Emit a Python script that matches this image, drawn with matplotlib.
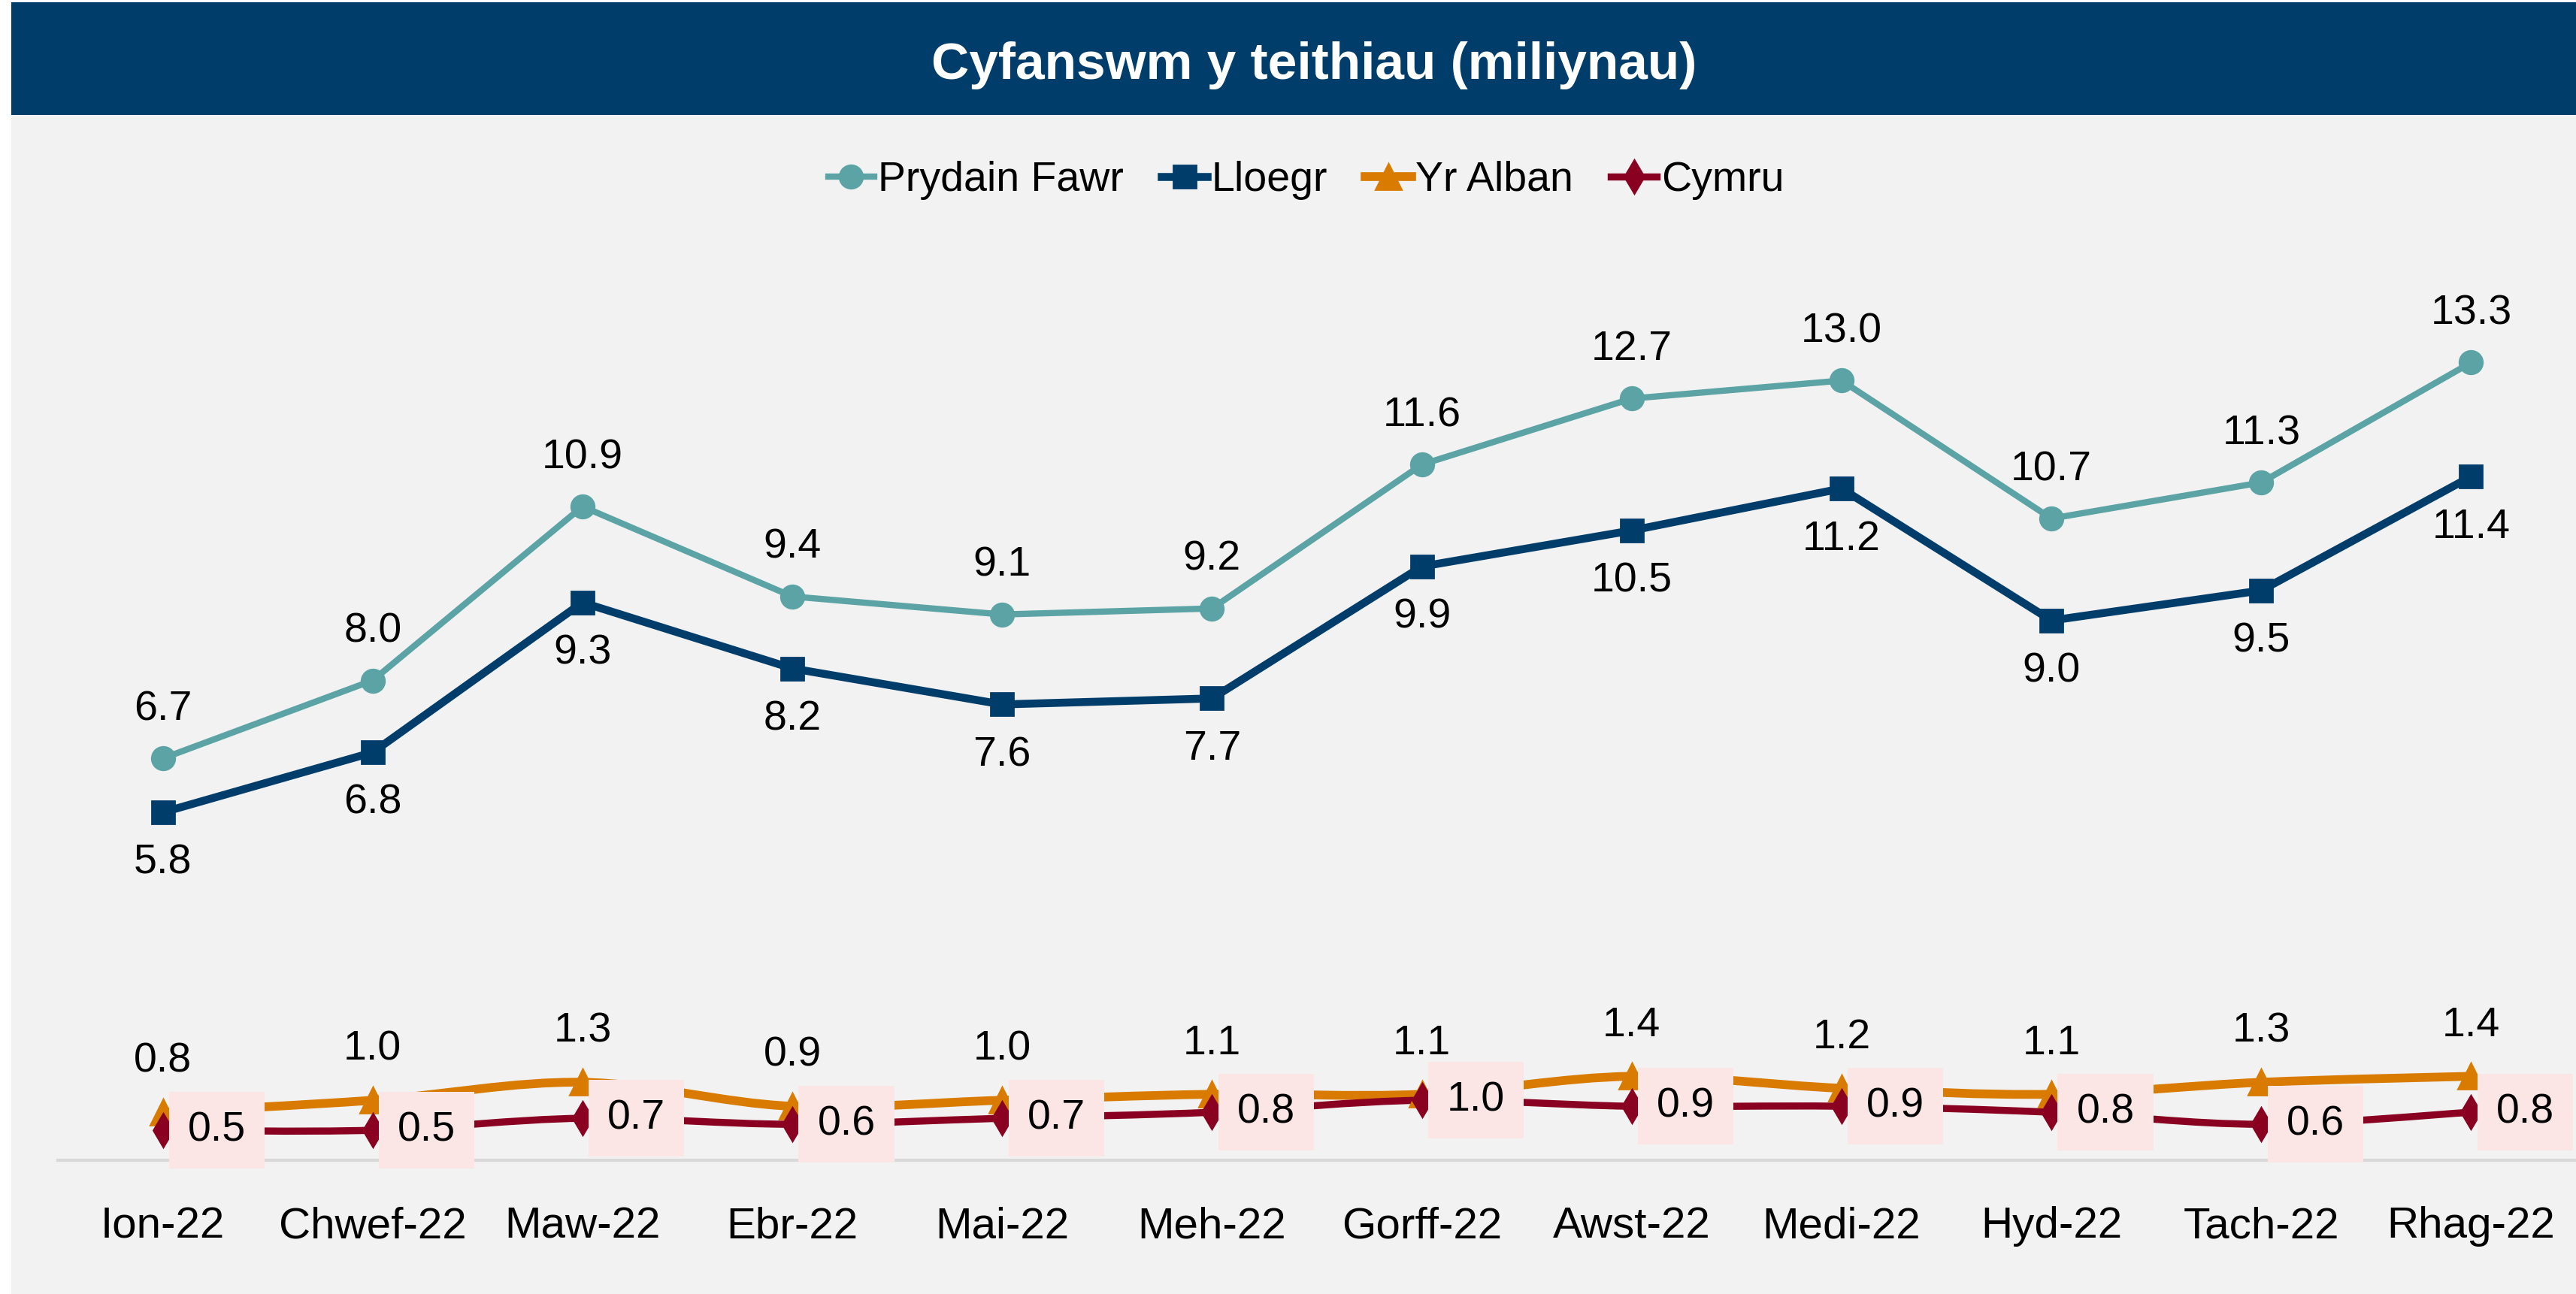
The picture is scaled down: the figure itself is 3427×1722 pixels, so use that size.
import numpy as np
import matplotlib.pyplot as plt
from matplotlib.path import Path
from matplotlib.patches import PathPatch, Rectangle
from matplotlib.lines import Line2D

plt.rcParams['font.family'] = ['Liberation Sans Narrow', 'Liberation Sans', 'DejaVu Sans']

# Data (millions of journeys)
months = ['Ion-22', 'Chwef-22', 'Maw-22', 'Ebr-22', 'Mai-22', 'Meh-22',
          'Gorff-22', 'Awst-22', 'Medi-22', 'Hyd-22', 'Tach-22', 'Rhag-22']
prydain_fawr = [6.7, 8.0, 10.9, 9.4, 9.1, 9.2, 11.6, 12.7, 13.0, 10.7, 11.3, 13.3]
lloegr = [5.8, 6.8, 9.3, 8.2, 7.6, 7.7, 9.9, 10.5, 11.2, 9.0, 9.5, 11.4]
yr_alban = [0.8, 1.0, 1.3, 0.9, 1.0, 1.1, 1.1, 1.4, 1.2, 1.1, 1.3, 1.4]
cymru = [0.5, 0.5, 0.7, 0.6, 0.7, 0.8, 1.0, 0.9, 0.9, 0.8, 0.6, 0.8]

c_gb = '#5BA3A5'
c_eng = '#003D6B'
c_sco = '#D97B00'
c_wal = '#8A0020'


def smooth_path(x, y):
    # Excel-style smoothed line drawn as cubic bezier segments
    p = np.column_stack([x, y]).astype(float)
    n = len(p)
    verts = [p[0]]
    codes = [Path.MOVETO]
    for i in range(n - 1):
        p0 = p[i - 1] if i > 0 else p[i]
        p3 = p[i + 2] if i + 2 < n else p[i + 1]
        c1 = p[i] + (p[i + 1] - p0) / 6
        c2 = p[i + 1] - (p3 - p[i]) / 6
        verts += [c1, c2, p[i + 1]]
        codes += [Path.CURVE4] * 3
    return Path(verts, codes)


fig = plt.figure(figsize=(17.135, 8.61), dpi=200, facecolor='white')
fig.patches.append(Rectangle((15 / 3427, 0), 1, 1 - 3 / 1722, transform=fig.transFigure,
                             facecolor='#F2F2F2', edgecolor='none', zorder=-10))
fig.patches.append(Rectangle((15 / 3427, 1 - 153 / 1722), 1, 150 / 1722, transform=fig.transFigure,
                             facecolor=c_eng, edgecolor='none', zorder=-9))
fig.text(0.51, 1 - 87 / 1722, 'Cyfanswm y teithiau (miliynau)', color='white',
         fontsize=25, fontweight='bold', ha='center', va='center', zorder=2)

ax = fig.add_axes([77 / 3427, 1 - 1544 / 1722, 1 - 77 / 3427, (1544 - 267) / 1722])
ax.set_facecolor('none')
x = np.arange(len(months))

ax.plot(x, prydain_fawr, color=c_gb, lw=3, marker='o', ms=11, zorder=4)
ax.plot(x, lloegr, color=c_eng, lw=3.8, marker='s', ms=10.5, zorder=4)

ax.add_patch(PathPatch(smooth_path(x, yr_alban), facecolor='none', edgecolor=c_sco, lw=4.2, zorder=3))
ax.plot(x, yr_alban, ls='none', color=c_sco, marker='^', ms=12, zorder=4)
ax.add_patch(PathPatch(smooth_path(x, cymru), facecolor='none', edgecolor=c_wal, lw=3.4, zorder=3))
ax.plot(x, cymru, ls='none', color=c_wal, marker='d', ms=11, zorder=4)

lab = dict(fontsize=20, ha='center', textcoords='offset points')
for i in range(len(months)):
    ax.annotate(f'{prydain_fawr[i]:.1f}', (x[i], prydain_fawr[i]), xytext=(0, 14), va='bottom', **lab)
    ax.annotate(f'{lloegr[i]:.1f}', (x[i], lloegr[i]), xytext=(0, -15), va='top', **lab)
    ax.annotate(f'{yr_alban[i]:.1f}', (x[i], yr_alban[i]), xytext=(0, 15), va='bottom', **lab)
    ax.annotate(f'{cymru[i]:.1f}', (x[i], cymru[i]), xytext=(12, 0), fontsize=20, ha='left', va='center',
                textcoords='offset points', zorder=5,
                bbox=dict(boxstyle='square,pad=0.45', facecolor='#FBE5E5', edgecolor='none'))

ax.set_xlim(-0.5, len(months) - 0.5)
ax.set_ylim(0, 16)
ax.set_xticks(x)
ax.set_xticklabels(months, fontsize=21)
ax.set_yticks([])
ax.tick_params(axis='x', length=0, pad=22)
for s in ['top', 'right', 'left']:
    ax.spines[s].set_visible(False)
ax.spines['bottom'].set_color('#D9D9D9')
ax.spines['bottom'].set_linewidth(1.5)

handles = [
    Line2D([], [], color=c_gb, lw=3, marker='o', ms=11),
    Line2D([], [], color=c_eng, lw=3.8, marker='s', ms=10.5),
    Line2D([], [], color=c_sco, lw=4.2, marker='^', ms=12),
    Line2D([], [], color=c_wal, lw=3.4, marker='d', ms=11),
]
fig.legend(handles, ['Prydain Fawr', 'Lloegr', 'Yr Alban', 'Cymru'], loc='center',
           bbox_to_anchor=(0.507, 1 - 240 / 1722), ncol=4, frameon=False, fontsize=20,
           handlelength=1.1, handletextpad=0.1, columnspacing=0.9)

fig.savefig('out.png', dpi=200, facecolor=fig.get_facecolor())
